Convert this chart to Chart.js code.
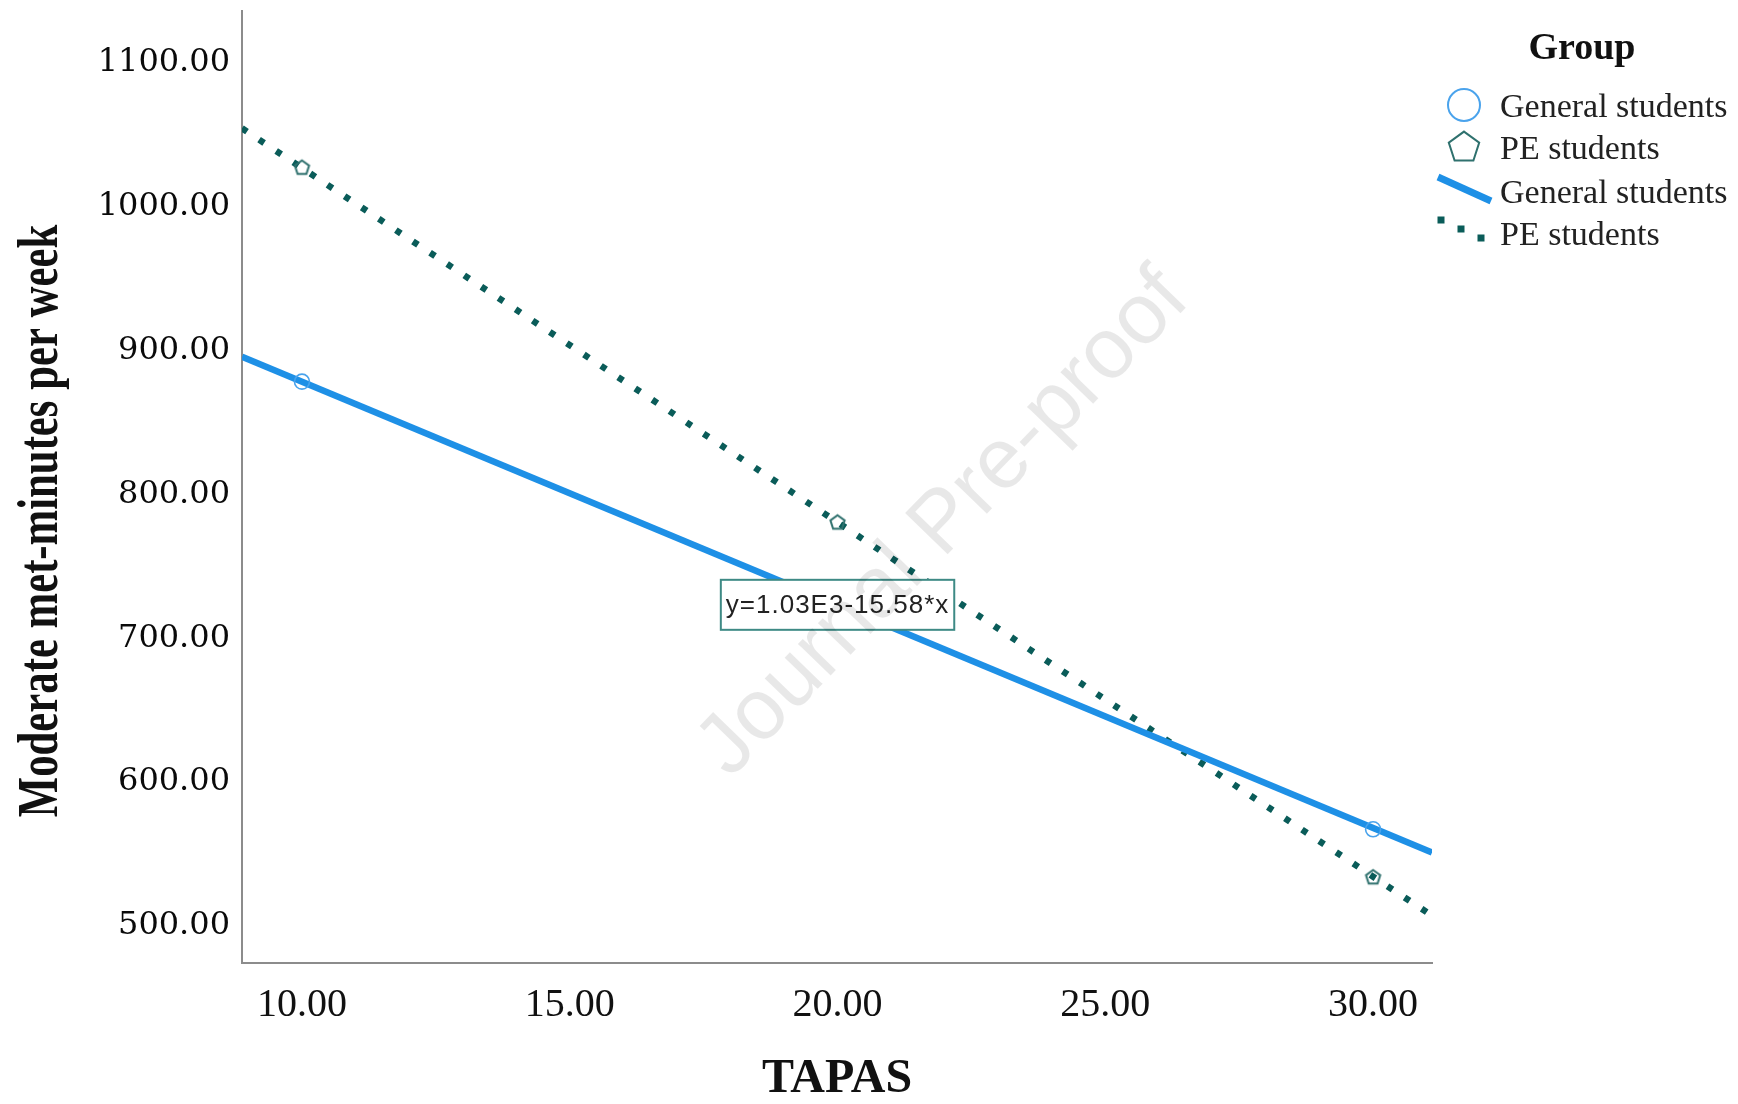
<!DOCTYPE html>
<html>
<head>
<meta charset="utf-8">
<title>TAPAS vs moderate met-minutes</title>
<script src="https://cdn.jsdelivr.net/npm/chart.js@4.4.0/dist/chart.umd.min.js"></script>
<style>
  html, body { margin: 0; padding: 0; background: #fff; }
  canvas { display: block; }
</style>
</head>
<body>
<canvas id="tapasChart" width="1738" height="1104"></canvas>
<script>
// ---- data ----
const groups = ['General students', 'PE students'];

// observed group means (markers)
const generalX = [10, 30];
const generalY = [875.5, 564.5];
const peX = [10, 20, 30];
const peY = [1024.5, 778, 531.5];

// fit line end points (at the plot edges)
const fitX = [8.88, 31.1];
const generalFitY = [892.8, 548.4];
const peFitY = [1051.5, 504.5];

const fitLabel = 'y=1.03E3-15.58*x';
const fitLabelAtX = 20;

const xTicks = [10, 15, 20, 25, 30];
const yTicks = [500, 600, 700, 800, 900, 1000, 1100];

const xTitle = 'TAPAS';
const yTitle = 'Moderate met-minutes per week';
const legendTitle = 'Group';
const watermark = 'Journal Pre-proof';

// ---- styles ----
const BLUE = '#1e90e6';
const BLUE_MARK = '#4aa3ec';
const TEAL = '#0a5c59';
const TEAL_MARK = '#2f716e';
const SERIF = '"Liberation Serif", "Times New Roman", serif';

function pentagon(r, color, lw) {
  const size = Math.ceil(2 * r + lw * 2 + 2);
  const c = document.createElement('canvas');
  c.width = size; c.height = size;
  const g = c.getContext('2d');
  g.strokeStyle = color;
  g.lineWidth = lw;
  g.beginPath();
  for (let i = 0; i < 5; i++) {
    const a = -Math.PI / 2 + i * 2 * Math.PI / 5;
    const px = size / 2 + r * Math.cos(a);
    const py = size / 2 + r * Math.sin(a) + r * 0.1;
    if (i === 0) g.moveTo(px, py); else g.lineTo(px, py);
  }
  g.closePath();
  g.stroke();
  return c;
}

function drawPentagon(ctx, cx, cy, r) {
  ctx.beginPath();
  for (let i = 0; i < 5; i++) {
    const a = -Math.PI / 2 + i * 2 * Math.PI / 5;
    const px = cx + r * Math.cos(a);
    const py = cy + r * Math.sin(a) + r * 0.1;
    if (i === 0) ctx.moveTo(px, py); else ctx.lineTo(px, py);
  }
  ctx.closePath();
  ctx.stroke();
}

const pts = (xs, ys) => xs.map((x, i) => ({ x: x, y: ys[i] }));

// titles, legend, equation box, watermark
const spssDecor = {
  id: 'spssDecor',
  afterDatasetsDraw(chart) {
    const ctx = chart.ctx;
    const xs = chart.scales.x, ys = chart.scales.y;

    // equation label centred on the general fit line
    const t = (fitLabelAtX - fitX[0]) / (fitX[1] - fitX[0]);
    const yVal = generalFitY[0] + t * (generalFitY[1] - generalFitY[0]);
    const cx = xs.getPixelForValue(fitLabelAtX);
    const cy = ys.getPixelForValue(yVal);
    ctx.save();
    ctx.font = '26px "Liberation Sans", Arial, sans-serif';
    ctx.letterSpacing = '1px';
    const w = ctx.measureText(fitLabel).width + 10;
    const h = 50;
    ctx.fillStyle = '#fff';
    ctx.fillRect(cx - w / 2, cy - h / 2, w, h);
    ctx.strokeStyle = '#3e8a85';
    ctx.lineWidth = 2;
    ctx.strokeRect(cx - w / 2, cy - h / 2, w, h);
    ctx.fillStyle = '#222';
    ctx.textAlign = 'center';
    ctx.textBaseline = 'middle';
    ctx.fillText(fitLabel, cx, cy + 1);
    ctx.restore();
  },
  afterDraw(chart) {
    const ctx = chart.ctx;
    ctx.save();

    // axis titles
    ctx.fillStyle = '#111';
    ctx.textAlign = 'center';
    ctx.textBaseline = 'middle';
    ctx.font = 'bold 48px ' + SERIF;
    ctx.fillText(xTitle, 837, 1080);

    ctx.save();
    ctx.translate(42, 521);
    ctx.rotate(-Math.PI / 2);
    ctx.scale(0.75, 1);
    ctx.font = 'bold 57px ' + SERIF;
    ctx.fillText(yTitle, 0, 0);
    ctx.restore();

    // legend
    ctx.font = 'bold 38px ' + SERIF;
    ctx.fillText(legendTitle, 1582, 49);

    ctx.textAlign = 'left';
    ctx.font = '34px ' + SERIF;
    ctx.fillStyle = '#222';
    const rows = [108, 150, 194, 236];
    ctx.fillText(groups[0], 1500, rows[0]);
    ctx.fillText(groups[1], 1500, rows[1]);
    ctx.fillText(groups[0], 1500, rows[2]);
    ctx.fillText(groups[1], 1500, rows[3]);

    ctx.strokeStyle = BLUE_MARK;
    ctx.lineWidth = 2;
    ctx.beginPath();
    ctx.arc(1464, 105, 16, 0, Math.PI * 2);
    ctx.stroke();

    ctx.strokeStyle = TEAL_MARK;
    drawPentagon(ctx, 1464, 146, 16);

    ctx.strokeStyle = BLUE;
    ctx.lineWidth = 7;
    ctx.beginPath();
    ctx.moveTo(1438, 177);
    ctx.lineTo(1491, 201);
    ctx.stroke();

    ctx.fillStyle = TEAL;
    [[1441, 220], [1461, 229], [1481, 238]].forEach(d => {
      ctx.fillRect(d[0] - 3.5, d[1] - 3.5, 7, 7);
    });

    // watermark
    ctx.translate(944, 524);
    ctx.rotate(-46 * Math.PI / 180);
    ctx.textAlign = 'center';
    ctx.textBaseline = 'middle';
    ctx.font = '86px "Liberation Sans", Arial, sans-serif';
    ctx.fillStyle = 'rgba(0, 0, 0, 0.09)';
    ctx.fillText(watermark, 0, 0);

    ctx.restore();
  }
};

new Chart(document.getElementById('tapasChart'), {
  type: 'scatter',
  data: {
    datasets: [
      {
        label: groups[0],
        data: pts(generalX, generalY),
        pointStyle: 'circle',
        pointRadius: 7.5,
        borderColor: BLUE_MARK,
        backgroundColor: 'rgba(255,255,255,0)',
        borderWidth: 1.6
      },
      {
        label: groups[1],
        data: pts(peX, peY),
        pointStyle: pentagon(7.5, TEAL_MARK, 2),
        pointRadius: 7.5
      },
      {
        label: groups[0] + ' fit',
        data: pts(fitX, generalFitY),
        showLine: true,
        pointRadius: 0,
        borderColor: BLUE,
        borderWidth: 6.5
      },
      {
        label: groups[1] + ' fit',
        data: pts(fitX, peFitY),
        showLine: true,
        pointRadius: 0,
        borderColor: TEAL,
        borderWidth: 6.5,
        borderDash: [6, 14.5],
        borderCapStyle: 'butt'
      }
    ]
  },
  options: {
    responsive: false,
    animation: false,
    devicePixelRatio: 1,
    layout: { padding: { top: 11, right: 306, left: 0, bottom: 0 } },
    plugins: {
      legend: { display: false },
      tooltip: { enabled: false }
    },
    scales: {
      x: {
        type: 'linear',
        min: fitX[0],
        max: fitX[1],
        afterBuildTicks: (scale) => { scale.ticks = xTicks.map(v => ({ value: v })); },
        afterFit: (scale) => {
          scale.height = 141;
          scale.paddingLeft = 0;
          scale.paddingRight = 0;
        },
        grid: { display: false, drawTicks: false },
        border: { display: true, color: '#8c8c8c', width: 2 },
        ticks: {
          padding: 18,
          color: '#111',
          font: { family: SERIF, size: 40 },
          callback: (v) => Number(v).toFixed(2)
        }
      },
      y: {
        type: 'linear',
        min: 471.6,
        max: 1133,
        afterBuildTicks: (scale) => { scale.ticks = yTicks.map(v => ({ value: v })); },
        afterFit: (scale) => {
          scale.width = 242;
          scale.paddingTop = 0;
          scale.paddingBottom = 0;
        },
        grid: { display: false, drawTicks: false },
        border: { display: true, color: '#8c8c8c', width: 2 },
        ticks: {
          padding: 12,
          labelOffset: 4,
          color: '#0a0a0a',
          font: { family: '"DejaVu Serif", serif', size: 32 },
          callback: (v) => Number(v).toFixed(2)
        }
      }
    }
  },
  plugins: [spssDecor]
});
</script>
</body>
</html>
